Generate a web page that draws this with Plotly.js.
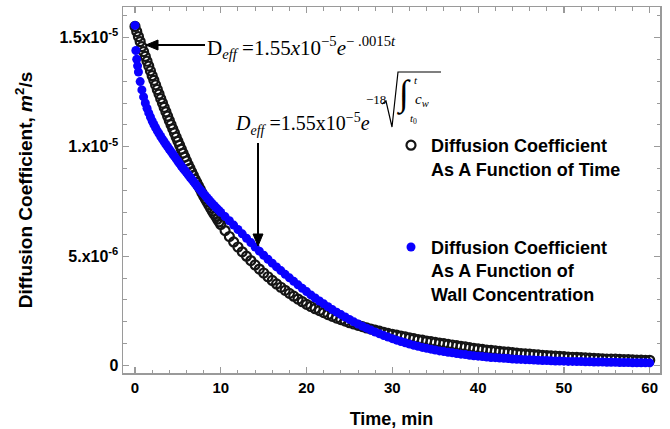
<!DOCTYPE html>
<html>
<head>
<meta charset="utf-8">
<script src="https://cdn.plot.ly/plotly-3.0.1.min.js"></script>
<style>html,body{margin:0;padding:0;background:#fff}#chart{width:670px;height:429px}</style>
</head>
<body>
<div id="chart"></div>
<script>
// Time (min) for the "function of time" series
var tTime = [
 0,0.2,0.4,0.6,0.8,1,1.2,1.4,1.6,1.8,2,2.2,2.4,2.6,2.8,3,3.2,3.4,3.6,3.8,4,4.2,4.4,4.6,4.8,5,
 5.2,5.4,5.6,5.8,6,6.2,6.4,6.6,6.8,7,7.2,7.4,7.6,7.8,8,8.2,8.4,8.6,8.8,9,9.2,9.4,9.6,9.8,10,
 10.5,11,11.5,12,12.5,13,13.5,14,14.5,15,15.5,16,16.5,17,17.5,18,18.5,19,19.5,20,
 20.5,21,21.5,22,22.5,23,23.5,24,24.5,25,25.5,26,26.5,27,27.5,28,28.5,29,29.5,30,
 30.5,31,31.5,32,32.5,33,33.5,34,34.5,35,35.5,36,36.5,37,37.5,38,38.5,39,39.5,40,
 40.5,41,41.5,42,42.5,43,43.5,44,44.5,45,45.5,46,46.5,47,47.5,48,48.5,49,49.5,50,
 50.5,51,51.5,52,52.5,53,53.5,54,54.5,55,55.5,56,56.5,57,57.5,58,58.5,59,59.5,60
];
// D_eff (units of 1e-6 m^2/s) as a function of time
var dTime = [
 15.50,15.27,15.04,14.81,14.58,14.35,14.13,13.91,13.69,13.47,13.25,13.04,12.83,12.62,12.41,12.20,12.00,11.80,11.60,11.40,11.20,11.01,10.82,10.63,10.44,10.25,
 10.07,9.89,9.71,9.53,9.35,9.18,9.02,8.85,8.69,8.52,8.37,8.21,8.06,7.90,7.75,7.61,7.47,7.34,7.20,7.06,6.94,6.82,6.69,6.57,6.45,
 6.17,5.90,5.65,5.42,5.20,5.00,4.80,4.60,4.41,4.23,4.06,3.89,3.73,3.58,3.44,3.30,3.17,3.04,2.92,2.80,
 2.70,2.60,2.51,2.42,2.33,2.25,2.17,2.10,2.03,1.96,1.90,1.84,1.78,1.72,1.67,1.62,1.57,1.52,1.47,1.43,
 1.39,1.35,1.31,1.27,1.23,1.19,1.16,1.12,1.09,1.06,1.03,1.00,0.97,0.94,0.91,0.88,0.85,0.82,0.79,0.76,
 0.74,0.71,0.69,0.67,0.65,0.63,0.61,0.59,0.57,0.55,0.53,0.52,0.50,0.49,0.47,0.46,0.44,0.43,0.42,0.41,
 0.39,0.38,0.37,0.36,0.35,0.34,0.33,0.32,0.31,0.30,0.30,0.29,0.28,0.27,0.27,0.26,0.25,0.25,0.24,0.24
];
// Time (min) for the "function of wall concentration" series
var tWall = [
 0,0.1,0.2,0.3,0.4,
 0.6,0.8,1,1.2,1.4,1.6,1.8,2,2.2,2.4,2.6,2.8,3,3.2,3.4,3.6,3.8,4,4.2,4.4,4.6,4.8,5,
 5.2,5.4,5.6,5.8,6,6.2,6.4,6.6,6.8,7,7.2,7.4,7.6,7.8,8,8.2,8.4,8.6,8.8,9,9.2,9.4,9.6,9.8,10,
 10.5,11,11.5,12,12.5,13,13.5,14,14.5,15,15.5,16,16.5,17,17.5,18,18.5,19,19.5,20,
 20.5,21,21.5,22,22.5,23,23.5,24,24.5,25,25.5,26,26.5,27,27.5,28,28.5,29,29.5,30,
 30.5,31,31.5,32,32.5,33,33.5,34,34.5,35,35.5,36,36.5,37,37.5,38,38.5,39,39.5,40,
 40.5,41,41.5,42,42.5,43,43.5,44,44.5,45,45.5,46,46.5,47,47.5,48,48.5,49,49.5,50,
 50.5,51,51.5,52,52.5,53,53.5,54,54.5,55,55.5,56,56.5,57,57.5,58,58.5,59,59.5,60
];
// D_eff (units of 1e-6 m^2/s) as a function of wall concentration
var dWall = [
 15.55,14.40,14.00,13.70,13.42,
 12.98,12.60,12.28,12.00,11.76,11.55,11.36,11.18,11.02,10.87,10.73,10.60,10.47,10.35,10.23,10.11,10.00,9.89,9.78,9.67,9.56,9.45,9.34,
 9.23,9.12,9.02,8.92,8.82,8.72,8.62,8.52,8.42,8.32,8.22,8.12,8.03,7.94,7.85,7.76,7.67,7.58,7.49,7.40,7.32,7.24,7.16,7.08,7.00,
 6.81,6.62,6.42,6.22,6.02,5.82,5.62,5.42,5.23,5.04,4.86,4.68,4.51,4.34,4.17,4.01,3.85,3.69,3.53,3.38,
 3.23,3.09,2.95,2.82,2.69,2.56,2.44,2.33,2.22,2.11,2.00,1.90,1.80,1.71,1.62,1.53,1.45,1.37,1.30,1.23,
 1.16,1.10,1.04,0.98,0.93,0.88,0.83,0.79,0.75,0.71,0.67,0.64,0.61,0.58,0.55,0.52,0.50,0.47,0.45,0.43,
 0.41,0.39,0.37,0.36,0.34,0.33,0.32,0.30,0.29,0.28,0.27,0.26,0.25,0.24,0.23,0.23,0.22,0.21,0.21,0.20,
 0.19,0.19,0.18,0.18,0.17,0.17,0.16,0.16,0.16,0.15,0.15,0.15,0.14,0.14,0.14,0.13,0.13,0.13,0.13,0.12
];
var unit = 1e-6;
var seriesNames = [
 'Diffusion Coefficient<br>As A Function of Time',
 'Diffusion Coefficient<br>As A Function of<br>Wall Concentration'
];
var xTickVals = [0,10,20,30,40,50,60];
var yTickVals = [0,5e-6,1e-5,1.5e-5];
var yTickText = ['0','5.x10<sup>-6</sup>','1.x10<sup>-5</sup>','1.5x10<sup>-5</sup>'];

var scale = function(a){return a.map(function(v){return v*unit;});};

var sans = 'Liberation Sans, Arial, sans-serif';
var serif = 'Liberation Serif, Times New Roman, serif';

var traces = [
 {x:tTime, y:scale(dTime), mode:'markers', type:'scatter', name:seriesNames[0], legendgroup:'a',
  marker:{symbol:'circle-open', size:9, color:'#151515', line:{width:2.2, color:'#151515'}}},
 {x:tWall, y:scale(dWall), mode:'markers', type:'scatter', name:seriesNames[1], legendgroup:'b',
  marker:{symbol:'circle', size:9, color:'#0a00ff', line:{width:0}}}
];

// pixel -> paper helpers for annotations
var L=123,R=660,T=7,B=373;
function PX(p){return (p-L)/(R-L);}
function PY(p){return (B-p)/(B-T);}

var annotations = [
 {xref:'paper', yref:'paper', x:PX(205), y:PY(47), xanchor:'left', yanchor:'middle', showarrow:false,
  text:'D<sub><i>eff</i></sub> =1.55<i>x</i>10<sup>−5</sup><i>e</i><sup>− .0015<i>t</i></sup>',
  font:{family:serif, size:21, color:'#000'}},
 {xref:'paper', yref:'paper', x:PX(233), y:PY(124), xanchor:'left', yanchor:'middle', showarrow:false,
  text:'<i>D</i><sub><i>eff</i></sub> =1.55x10<sup>−5</sup><i>e</i>', font:{family:serif, size:20, color:'#000'}},
 {xref:'paper', yref:'paper', x:PX(376), y:PY(100), xanchor:'center', yanchor:'middle', showarrow:false,
  text:'−18', font:{family:serif, size:13, color:'#000'}},
 {xref:'paper', yref:'paper', x:PX(404), y:PY(94), xanchor:'center', yanchor:'middle', showarrow:false,
  text:'<i>∫</i>', font:{family:serif, size:36, color:'#000'}},
 {xref:'paper', yref:'paper', x:PX(416), y:PY(80), xanchor:'center', yanchor:'middle', showarrow:false,
  text:'<i>t</i>', font:{family:serif, size:11, color:'#000'}},
 {xref:'paper', yref:'paper', x:PX(413), y:PY(100), xanchor:'left', yanchor:'middle', showarrow:false,
  text:'<i>c</i><sub><i>w</i></sub>', font:{family:serif, size:15, color:'#000'}},
 {xref:'paper', yref:'paper', x:PX(413), y:PY(119), xanchor:'center', yanchor:'middle', showarrow:false,
  text:'<i>t</i><sub>0</sub>', font:{family:serif, size:11, color:'#000'}}
];

var radical = 'M '+PX(382)+','+PY(104)+' L '+PX(386)+','+PY(101)+' L '+PX(392)+','+PY(127)+
              ' L '+PX(398)+','+PY(72)+' L '+PX(441)+','+PY(72);
// arrow 1: horizontal, head pointing left
var arrow1Line = 'M '+PX(205)+','+PY(45)+' L '+PX(155)+','+PY(45);
var arrow1Head = 'M '+PX(146)+','+PY(45)+' L '+PX(158)+','+PY(40)+' L '+PX(158)+','+PY(50)+' Z';
// arrow 2: vertical, head pointing down
var arrow2Line = 'M '+PX(258)+','+PY(143)+' L '+PX(258)+','+PY(236);
var arrow2Head = 'M '+PX(258)+','+PY(246)+' L '+PX(253)+','+PY(234)+' L '+PX(263)+','+PY(234)+' Z';
var shapes = [
 {type:'path', xref:'paper', yref:'paper', path:radical, line:{color:'#000', width:1.2}},
 {type:'path', xref:'paper', yref:'paper', path:arrow1Line, line:{color:'#000', width:2}},
 {type:'path', xref:'paper', yref:'paper', path:arrow1Head, line:{color:'#000', width:1}, fillcolor:'#000'},
 {type:'path', xref:'paper', yref:'paper', path:arrow2Line, line:{color:'#000', width:2}},
 {type:'path', xref:'paper', yref:'paper', path:arrow2Head, line:{color:'#000', width:1}, fillcolor:'#000'}
];

var axisCommon = {
 showline:true, linecolor:'#9a9a9a', linewidth:1.5, mirror:'ticks',
 ticks:'inside', ticklen:6, tickwidth:1.2, tickcolor:'#9a9a9a',
 showgrid:false, zeroline:false
};

var layout = {
 width:670, height:429,
 margin:{l:L, r:670-R, t:T, b:429-B},
 paper_bgcolor:'#fff', plot_bgcolor:'#fff',
 showlegend:true,
 legend:{x:PX(391), y:PY(127), xanchor:'left', yanchor:'top', bgcolor:'rgba(0,0,0,0)',
  font:{family:sans, size:18, color:'#000', weight:'bold'}, tracegroupgap:52, valign:'top', itemwidth:30},
 xaxis:Object.assign({}, axisCommon, {
  range:[-1.4, 61.2], tickvals:xTickVals,
  tickfont:{family:sans, size:15, color:'#000', weight:'bold'},
  minor:{dtick:2, tick0:0, ticks:'inside', ticklen:3.5, tickcolor:'#9a9a9a', tickwidth:1},
  title:{text:'Time, min', font:{family:sans, size:18, color:'#000', weight:'bold'}, standoff:22}
 }),
 yaxis:Object.assign({}, axisCommon, {
  range:[-3.4e-7, 1.639e-5], tickvals:yTickVals, ticktext:yTickText,
  tickfont:{family:sans, size:16, color:'#000', weight:'bold'},
  minor:{dtick:1e-6, tick0:0, ticks:'inside', ticklen:3.5, tickcolor:'#9a9a9a', tickwidth:1},
  title:{text:'Diffusion Coefficient, <i>m</i><sup>2</sup>/s', font:{family:sans, size:19, color:'#000', weight:'bold'}, standoff:22}
 }),
 annotations:annotations,
 shapes:shapes
};

Plotly.newPlot('chart', traces, layout, {displayModeBar:false, staticPlot:true});
</script>
</body>
</html>
